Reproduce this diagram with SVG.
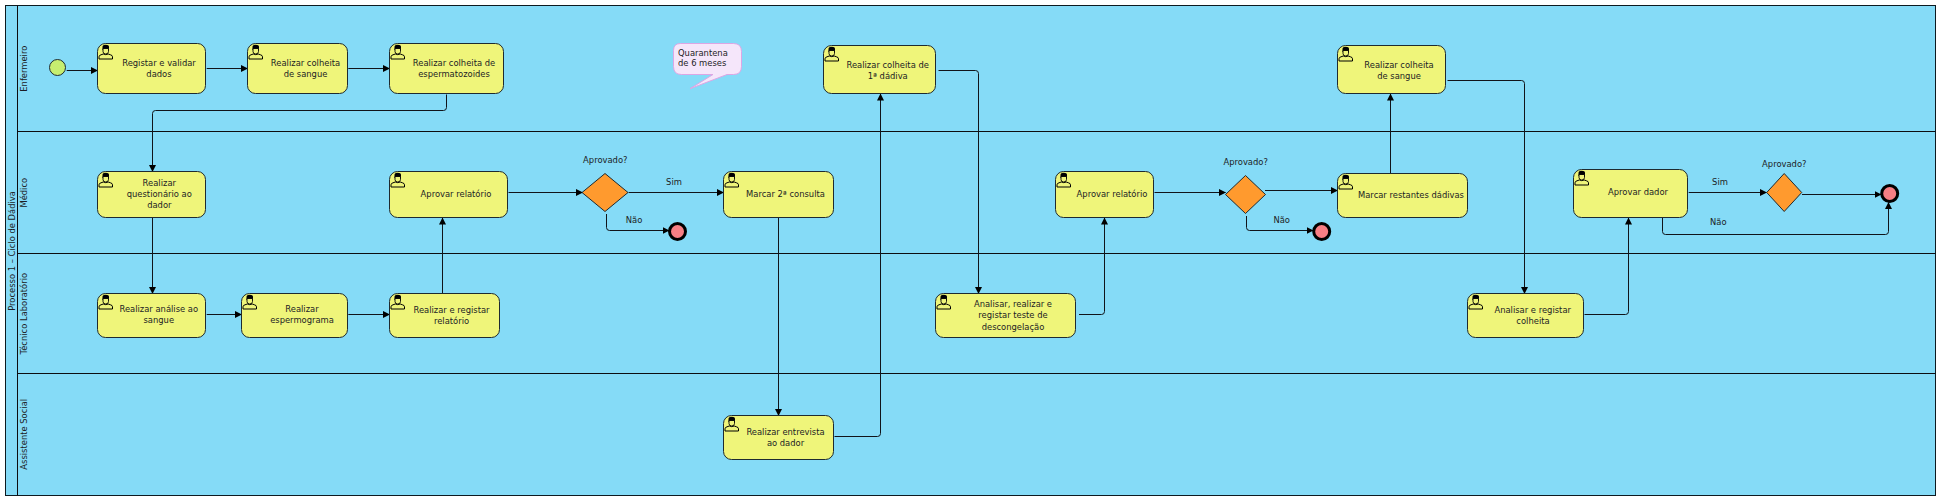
<svg xmlns="http://www.w3.org/2000/svg" width="1938" height="498" viewBox="0 0 1938 498">
<style>
text{font-family:"DejaVu Sans","Liberation Sans",sans-serif;font-size:8.400px;fill:#1c1c24;text-anchor:middle}
.task{fill:#eff57a;stroke:#1e2a30;stroke-width:1}
.gw{fill:#ff9a2e;stroke:#1e2a30;stroke-width:1}
.end{fill:#f77f85;stroke:#000;stroke-width:3}
.start{fill:#c6ee70;stroke:#1e2a30;stroke-width:1}
.line{fill:none;stroke:#0d0d10;stroke-width:1}
.cn{fill:none;stroke:#10141a;stroke-width:1}
</style>
<defs>
<marker id="arrow" markerUnits="userSpaceOnUse" markerWidth="9" markerHeight="9" refX="6.500" refY="4" orient="auto"><path d="M0 0.500L7 4L0 7.500Z" fill="#000"/></marker>
<symbol id="user" width="16" height="16" viewBox="0 0 16 16" overflow="visible">
<path d="M4.500 3Q4.500 .8 7.700 .8Q11 .8 11 3V6H4.500Z" fill="#000"/>
<path d="M5 4.500H10.500V7.500Q10.500 10 7.700 10Q5 10 5 7.500Z" fill="#eff57a" stroke="#000" stroke-width=".9"/>
<path d="M1 15V12.800Q1 11.300 3 10.800L5.300 10Q7.700 11.300 10.200 10L12.500 10.800Q14.500 11.300 14.500 12.800V15Z" fill="#eff57a" stroke="#000" stroke-width="1"/>
</symbol>
</defs>
<g id="pool">
<rect x="5.500" y="5.500" width="1930" height="490" fill="#85dbf7" stroke="#0d1a20" stroke-width="1"/>
<path class="line" d="M17.500 5.500V495.500M17.500 131.500H1935.500M17.500 253.500H1935.500M17.500 373.500H1935.500"/>
<text transform="translate(12,251) rotate(-90)" dy="3">Processo 1 – Ciclo de Dádiva</text>
<text transform="translate(24,68.700) rotate(-90)" dy="3">Enfermeiro</text>
<text transform="translate(24,192.700) rotate(-90)" dy="3">Médico</text>
<text transform="translate(24,313.700) rotate(-90)" dy="3">Técnico Laboratório</text>
<text transform="translate(24,434.300) rotate(-90)" dy="3">Assistente Social</text>
</g>
<g id="connectors" class="cn" marker-end="url(#arrow)">
<path d="M66.700 70.500H97.500"/>
<path d="M206.700 68.500H247.500"/>
<path d="M348.300 68.500H389.500"/>
<path d="M446.500 94.500V107.500Q446.500 110.500 443.500 110.500H155.500Q152.500 110.500 152.500 113.500V171.500"/>
<path d="M152.500 218V293.500"/>
<path d="M206.700 314.500H241.500"/>
<path d="M348.300 314.500H389.500"/>
<path d="M442.500 294.500V218"/>
<path d="M508.500 192.500H582.500"/>
<path d="M628.500 192.500H723.500"/>
<path d="M606.500 214V227.500Q606.500 230.500 609.500 230.500H669"/>
<path d="M778.500 218V415.500"/>
<path d="M834.500 436.500H877.500Q880.500 436.500 880.500 433.500V94"/>
<path d="M938.500 70.500H975.500Q978.500 70.500 978.500 73.500V293.500"/>
<path d="M1079 314.500H1101.500Q1104.500 314.500 1104.500 311.500V218"/>
<path d="M1154.500 192.500H1225.500"/>
<path d="M1265 190.500H1337.500"/>
<path d="M1246.500 216V227.500Q1246.500 230.500 1249.500 230.500H1313"/>
<path d="M1390.500 173.500V94"/>
<path d="M1447.500 80.500H1521.500Q1524.500 80.500 1524.500 83.500V293.500"/>
<path d="M1584.500 314.500H1625.500Q1628.500 314.500 1628.500 311.500V218"/>
<path d="M1688.700 192.500H1766.500"/>
<path d="M1802 194.500H1881"/>
<path d="M1662.500 218V231.500Q1662.500 234.500 1665.500 234.500H1885.500Q1888.500 234.500 1888.500 231.500V202.500"/>
</g>
<g id="start"><circle class="start" cx="57.500" cy="67.500" r="8"/></g>
<g id="t1"><rect class="task" x="97.500" y="43.500" width="108" height="50" rx="8"/><use href="#user" x="98" y="44"/><text x="159" y="66">Registar e validar</text><text x="159" y="77">dados</text></g>
<g id="t2"><rect class="task" x="247.500" y="43.500" width="100" height="50" rx="8"/><use href="#user" x="248" y="44"/><text x="305.500" y="66">Realizar colheita</text><text x="305.500" y="77">de sangue</text></g>
<g id="t3"><rect class="task" x="389.500" y="43.500" width="114" height="50" rx="8"/><use href="#user" x="390" y="44"/><text x="454" y="66">Realizar colheita de</text><text x="454" y="77">espermatozoides</text></g>
<g id="t4"><rect class="task" x="97.500" y="171.500" width="108" height="46" rx="8"/><use href="#user" x="98" y="172"/><text x="159.300" y="186">Realizar</text><text x="159.300" y="197">questionário ao</text><text x="159.300" y="208">dador</text></g>
<g id="t5"><rect class="task" x="389.500" y="171.500" width="118" height="46" rx="8"/><use href="#user" x="390" y="172"/><text x="456" y="197">Aprovar relatório</text></g>
<g id="gw1"><path class="gw" d="M605 173.500L628 192.500L605 211.500L582 192.500Z"/><text x="605.300" y="163">Aprovado?</text></g>
<g id="l1"><text x="674" y="185">Sim</text><text x="634" y="223">Não</text></g>
<g id="e1"><circle class="end" cx="677.500" cy="231.500" r="8"/></g>
<g id="t6"><rect class="task" x="723.500" y="171.500" width="110" height="46" rx="8"/><use href="#user" x="724" y="172"/><text x="785.500" y="197">Marcar 2ª consulta</text></g>
<g id="note"><path d="M680.500 43.500H733.500Q741.500 43.500 741.500 51.500V66.500Q741.500 74.500 733.500 74.500H727L690 88.700L713 74.500H681.500Q673.500 74.500 673.500 66.500V50.500Q673.500 43.500 680.500 43.500Z" fill="#f5e6fa" stroke="#dca6e4" stroke-width="1"/><text x="678" y="56" style="text-anchor:start">Quarantena</text><text x="678" y="66" style="text-anchor:start">de 6 meses</text></g>
<g id="t7"><rect class="task" x="823.500" y="45.500" width="112" height="48" rx="8"/><use href="#user" x="824" y="46"/><text x="887.700" y="68">Realizar colheita de</text><text x="887.700" y="79">1ª dádiva</text></g>
<g id="t8"><rect class="task" x="97.500" y="293.500" width="108" height="44" rx="8"/><use href="#user" x="98" y="294"/><text x="158.800" y="312">Realizar análise ao</text><text x="158.800" y="323">sangue</text></g>
<g id="t9"><rect class="task" x="241.500" y="293.500" width="106" height="44" rx="8"/><use href="#user" x="242" y="294"/><text x="302" y="312">Realizar</text><text x="302" y="323">espermograma</text></g>
<g id="t10"><rect class="task" x="389.500" y="293.500" width="110" height="44" rx="8"/><use href="#user" x="390" y="294"/><text x="451.500" y="313">Realizar e registar</text><text x="451.500" y="324">relatório</text></g>
<g id="t11"><rect class="task" x="723.500" y="415.500" width="110" height="44" rx="8"/><use href="#user" x="724" y="416"/><text x="785.500" y="435">Realizar entrevista</text><text x="785.500" y="446">ao dador</text></g>
<g id="t12"><rect class="task" x="935.500" y="293.500" width="140" height="44" rx="8"/><use href="#user" x="936" y="294"/><text x="1013" y="307">Analisar, realizar e</text><text x="1013" y="318.300">registar teste de</text><text x="1013" y="330">descongelação</text></g>
<g id="t13"><rect class="task" x="1055.500" y="171.500" width="98" height="46" rx="8"/><use href="#user" x="1056" y="172"/><text x="1112" y="197">Aprovar relatório</text></g>
<g id="gw2"><path class="gw" d="M1245.500 175.500L1265.500 194.500L1245.500 213.500L1225.500 194.500Z"/><text x="1245.700" y="165">Aprovado?</text></g>
<g id="l2"><text x="1281.700" y="223">Não</text></g>
<g id="e2"><circle class="end" cx="1321.700" cy="231.500" r="8"/></g>
<g id="t14"><rect class="task" x="1337.500" y="173.500" width="130" height="44" rx="8"/><use href="#user" x="1338" y="174"/><text x="1411" y="198">Marcar restantes dádivas</text></g>
<g id="t15"><rect class="task" x="1337.500" y="45.500" width="108" height="48" rx="8"/><use href="#user" x="1338" y="46"/><text x="1399" y="68">Realizar colheita</text><text x="1399" y="79">de sangue</text></g>
<g id="t16"><rect class="task" x="1467.500" y="293.500" width="116" height="44" rx="8"/><use href="#user" x="1468" y="294"/><text x="1532.700" y="313">Analisar e registar</text><text x="1533" y="324">colheita</text></g>
<g id="t17"><rect class="task" x="1573.500" y="169.500" width="114" height="48" rx="8"/><use href="#user" x="1574" y="170"/><text x="1638" y="195">Aprovar dador</text></g>
<g id="gw3"><path class="gw" d="M1784.200 173.500L1801.700 192.500L1784.200 211.500L1766.700 192.500Z"/><text x="1784.300" y="167">Aprovado?</text></g>
<g id="l3"><text x="1720" y="185">Sim</text><text x="1718.300" y="225">Não</text></g>
<g id="e3"><circle class="end" cx="1889.700" cy="193.500" r="8"/></g>
</svg>
